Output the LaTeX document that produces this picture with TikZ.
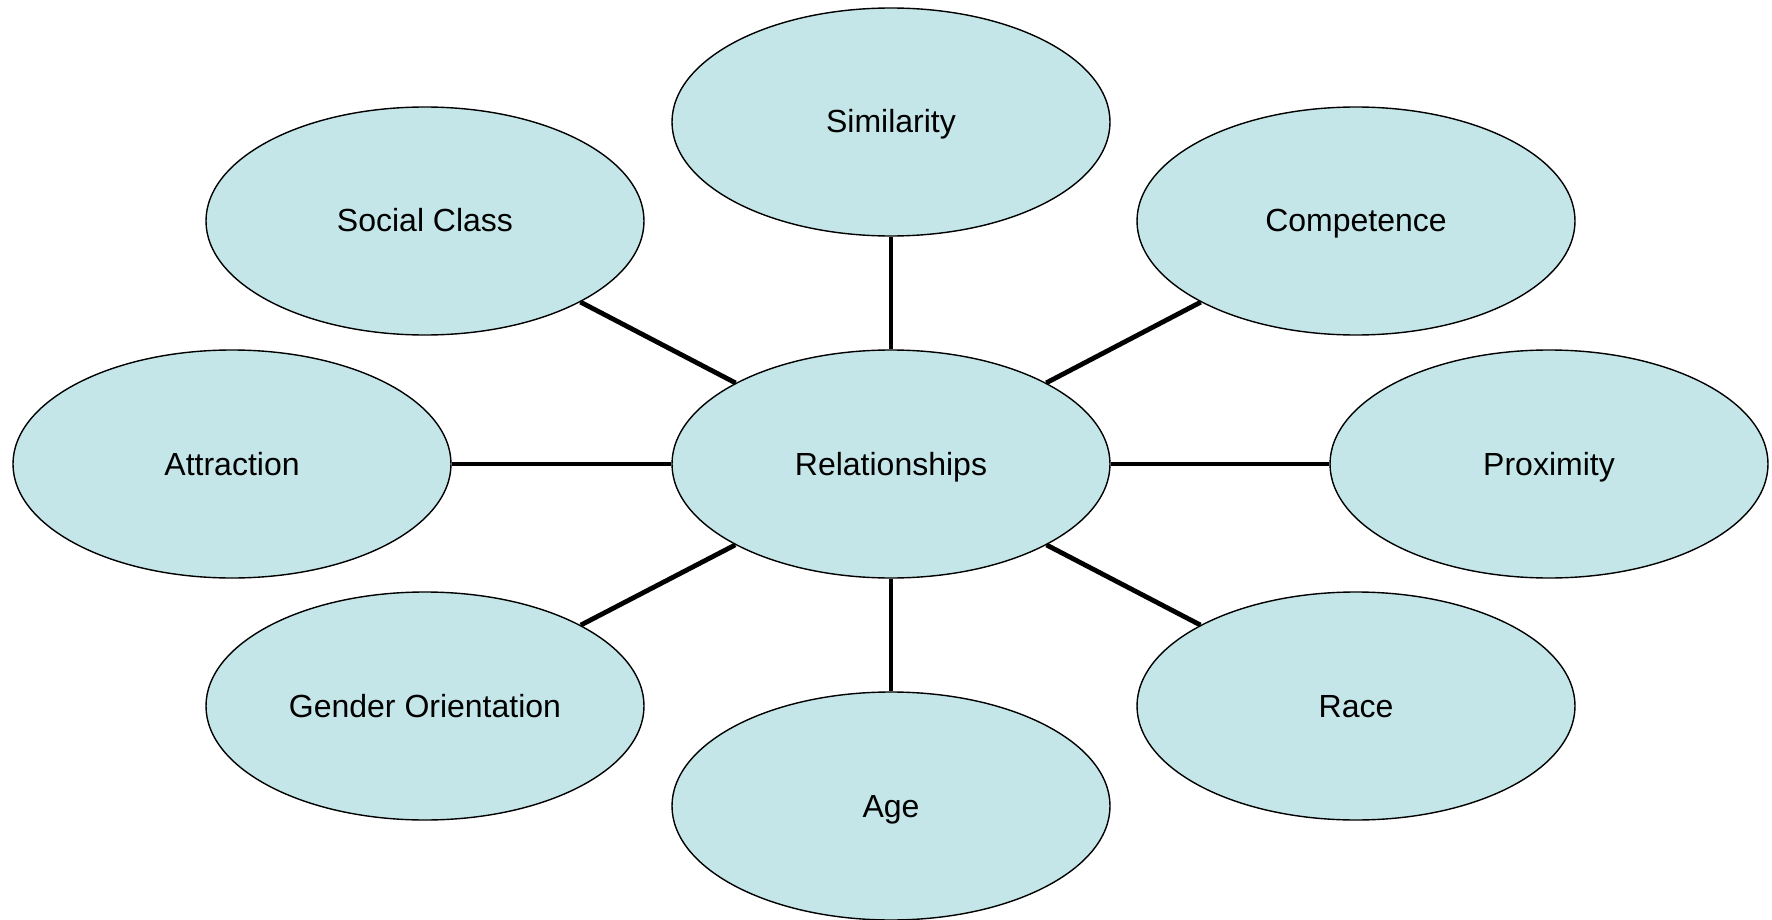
\documentclass[tikz,border=0pt]{standalone}
\usepackage{fontspec}
\setmainfont{Liberation Sans}
\usetikzlibrary{shapes.geometric}
\definecolor{bubblefill}{RGB}{196,230,232}
\tikzset{
  bubble/.style={ellipse, draw=black, line width=1.4pt, fill=bubblefill,
    minimum width=438pt, minimum height=228pt, inner sep=0pt,
    text height=22pt, text depth=0pt,
    font=\fontsize{32}{38}\selectfont},
  spoke/.style={line width=4.8pt, draw=black}
}
\begin{document}
\begin{tikzpicture}[x=1pt,y=-1pt]
\useasboundingbox (0,0) rectangle (1772,920);
\node[bubble] (rel) at (891,464) {Relationships};
\node[bubble] (sim) at (891,122) {Similarity};
\node[bubble] (soc) at (425,221) {Social Class};
\node[bubble] (com) at (1356,221) {Competence};
\node[bubble] (att) at (232,464) {Attraction};
\node[bubble] (pro) at (1549,464) {Proximity};
\node[bubble] (gen) at (425,706) {Gender Orientation};
\node[bubble] (rac) at (1356,706) {Race};
\node[bubble] (age) at (891,806) {Age};
\foreach \n in {sim,soc,com,att,pro,gen,rac,age}
  \draw[spoke] (rel) -- (\n);
\end{tikzpicture}
\end{document}
